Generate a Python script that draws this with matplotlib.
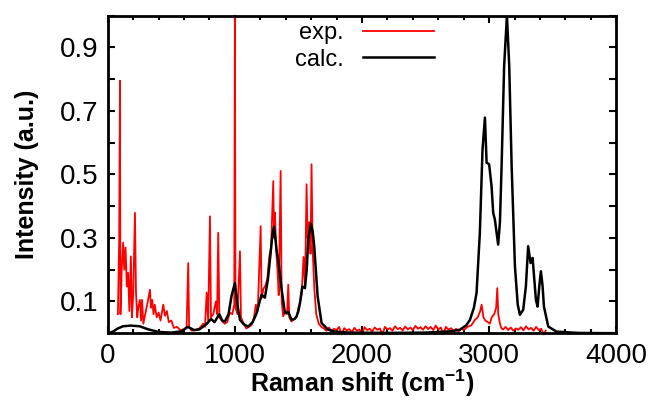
import matplotlib
matplotlib.use('Agg')
import matplotlib.pyplot as plt
from matplotlib.ticker import MultipleLocator, FuncFormatter

plt.rcParams['font.family'] = ['Liberation Sans', 'DejaVu Sans']
plt.rcParams['mathtext.fontset'] = 'custom'
plt.rcParams['mathtext.rm'] = 'Liberation Sans'
plt.rcParams['mathtext.bf'] = 'Liberation Sans:bold'

exp_x = [80, 90, 96, 100, 110, 121, 130, 140, 150, 160, 170, 182, 190, 200, 214, 222,
         232, 240, 253, 262, 270, 280, 295, 310, 332, 340, 350, 360, 370, 385, 400,
         415, 437, 450, 465, 480, 500, 520, 545, 570, 600, 620, 633, 640, 660, 690,
         720, 750, 765, 778, 790, 804, 812, 830, 850, 860, 869, 878, 895, 920, 940,
         960, 980, 995, 1000, 1005, 1020, 1040, 1048, 1070, 1090, 1110, 1130, 1150,
         1165, 1180, 1203, 1210, 1225, 1240, 1255, 1270, 1285, 1302, 1308, 1315, 1325,
         1335, 1345, 1360, 1368, 1380, 1395, 1410, 1420, 1428, 1445, 1465, 1485, 1500,
         1512, 1525, 1540, 1552, 1564, 1572, 1585, 1595, 1603, 1612, 1625, 1640, 1660,
         1680,
         1700, 1720, 1740, 1760, 1780, 1800, 1820, 1840, 1860, 1880, 1900, 1920, 1940,
         1960, 1980, 2000, 2020, 2040, 2060, 2080, 2100, 2120, 2140, 2160, 2180, 2200,
         2220, 2240, 2260, 2280, 2300, 2320, 2340, 2360, 2380, 2400, 2420, 2440, 2460,
         2480, 2500, 2520, 2540, 2560, 2580, 2600, 2620, 2640, 2660, 2680, 2700, 2720,
         2740, 2760, 2780, 2800,
         2830, 2860, 2888, 2910, 2930, 2941, 2955, 2970, 2990, 3005, 3020, 3040, 3055,
         3064, 3072, 3085, 3098,
         3110, 3130, 3150, 3170, 3190, 3210, 3230, 3250, 3270, 3290, 3310, 3330, 3350,
         3370, 3390, 3410, 3430, 3445]
exp_y = [0.06, 0.30, 0.795, 0.06, 0.20, 0.285, 0.20, 0.27, 0.147, 0.19, 0.07, 0.242, 0.05,
         0.12, 0.379, 0.13, 0.05, 0.08, 0.105, 0.04, 0.105, 0.03, 0.06, 0.09, 0.137, 0.08,
         0.105, 0.06, 0.09, 0.05, 0.065, 0.04, 0.09, 0.055, 0.07, 0.035, 0.04, 0.017, 0.02,
         0.01, 0.012, 0.02, 0.221, 0.02, 0.008, 0.01, 0.015, 0.03, 0.02, 0.128, 0.04,
         0.368, 0.05, 0.06, 0.10, 0.06, 0.316, 0.05, 0.04, 0.03, 0.035, 0.065, 0.06, 0.09,
         1.0, 0.08, 0.06, 0.258, 0.05, 0.03, 0.015, 0.02, 0.025, 0.05, 0.09, 0.07, 0.337,
         0.11, 0.14, 0.15, 0.17, 0.24, 0.27, 0.479, 0.30, 0.38, 0.26, 0.20, 0.12, 0.511,
         0.10, 0.053, 0.07, 0.06, 0.153, 0.05, 0.037, 0.045, 0.05, 0.08, 0.096, 0.12, 0.24,
         0.15, 0.469, 0.30, 0.35, 0.25, 0.532, 0.26, 0.14, 0.06, 0.03, 0.02,
         0.015, 0.008, 0.018, 0.006, 0.014, 0.01, 0.02, -0.004, 0.016, 0.009, 0.013, 0.003,
         0.017, 0.008, 0.012, -0.003, 0.019, 0.01, 0.014, 0.006, 0.018, 0.011, 0.015,
         -0.004, 0.02, 0.012, 0.016, 0.008, 0.022, 0.013, 0.017, 0.009, 0.021, 0.012, 0.018,
         0.01, 0.023, 0.014, 0.019, 0.011, 0.022, 0.013, 0.02, 0.01, 0.024, 0.012, 0.018,
         -0.003, 0.02, 0.011, 0.016, 0.007, 0.014, 0.006, 0.015, 0.01,
         0.02, 0.025, 0.042, 0.05, 0.07, 0.09, 0.05, 0.04, 0.035, 0.03, 0.05, 0.06, 0.08,
         0.142, 0.06, 0.03, 0.015,
         0.012, 0.02, 0.01, 0.018, 0.008, 0.015, 0.011, 0.019, 0.009, 0.022, 0.012, 0.017,
         0.008, 0.02, 0.01, 0.014, -0.004, 0.008]

# calculated spectrum
calc_x = [0, 40, 80, 120, 180, 250, 320, 400, 500, 580, 630, 680, 720, 780, 812, 840,
          877, 900, 922, 950, 975, 1000, 1020, 1040, 1070, 1105, 1140, 1171, 1195, 1210,
          1236, 1260, 1276, 1295, 1307, 1318, 1328, 1346, 1368, 1394, 1420, 1446, 1470,
          1485, 1500, 1512, 1530, 1551, 1565, 1577, 1598, 1612, 1624, 1640, 1651, 1682,
          1734, 1787, 1900, 2200, 2500, 2700, 2770, 2820, 2849, 2880, 2901, 2927, 2948,
          2967, 2980, 3000, 3019, 3032, 3045, 3071, 3085, 3098, 3118, 3140, 3158, 3177,
          3203, 3225, 3242, 3268, 3289, 3307, 3326, 3342, 3368, 3381, 3395, 3407, 3420,
          3431, 3465, 3530, 3700, 4000]
calc_y = [0.0, 0.005, 0.015, 0.022, 0.024, 0.022, 0.012, 0.004, 0.002, 0.006, 0.02, 0.01,
          0.012, 0.03, 0.045, 0.035, 0.06, 0.04, 0.037, 0.06, 0.12, 0.158, 0.09, 0.042,
          0.028, 0.021, 0.035, 0.063, 0.10, 0.121, 0.112, 0.17, 0.232, 0.31, 0.335, 0.30,
          0.263, 0.216, 0.137, 0.063, 0.067, 0.042, 0.045, 0.053, 0.07, 0.095, 0.147,
          0.142, 0.20, 0.295, 0.345, 0.32, 0.274, 0.18, 0.116, 0.032, 0.011, 0.005, 0.002,
          0.001, 0.002, 0.006, 0.011, 0.025, 0.042, 0.08, 0.127, 0.317, 0.579, 0.679,
          0.537, 0.532, 0.463, 0.379, 0.358, 0.279, 0.35, 0.526, 0.842, 1.0, 0.842, 0.526,
          0.21, 0.09, 0.058, 0.074, 0.147, 0.274, 0.221, 0.237, 0.105, 0.084, 0.15, 0.195,
          0.15, 0.084, 0.021, 0.005, 0.001, 0.0]

fig = plt.figure(figsize=(6.57, 4.01), dpi=100)
ax = fig.add_axes([0.164, 0.169, 0.774, 0.792])

ax.plot(exp_x, exp_y, color='red', lw=1.3, clip_on=False, zorder=2, label='exp.')
ax.plot(calc_x, calc_y, color='black', lw=1.8, zorder=3, label='calc.')

ax.set_xlim(0, 4000)
ax.set_ylim(0, 1.0)

ax.xaxis.set_major_locator(MultipleLocator(1000))
ax.xaxis.set_minor_locator(MultipleLocator(200))
ax.yaxis.set_major_locator(MultipleLocator(0.1))
ax.yaxis.set_major_formatter(FuncFormatter(
    lambda v, p: '%.1f' % v if round(v * 10) % 2 == 1 else ''))

ax.tick_params(which='both', direction='in', top=True, right=True,
               labelsize=20, width=1.5)
ax.tick_params(which='major', length=5, pad=7)
ax.tick_params(which='minor', length=3)

for s in ax.spines.values():
    s.set_linewidth(2.0)

ax.set_xlabel(r'Raman shift (cm$^{\mathbf{-1}}$)', fontsize=18, fontweight='bold', labelpad=-1)
ax.set_ylabel('Intensity (a.u.)', fontsize=18, fontweight='bold', labelpad=15)

ax.legend(loc='upper center', bbox_to_anchor=(0.505, 1.01), frameon=False,
          markerfirst=False, fontsize=17, handlelength=3.0, handletextpad=0.8,
          labelspacing=0.2, borderaxespad=0.0)

fig.savefig('out.png', dpi=100)
